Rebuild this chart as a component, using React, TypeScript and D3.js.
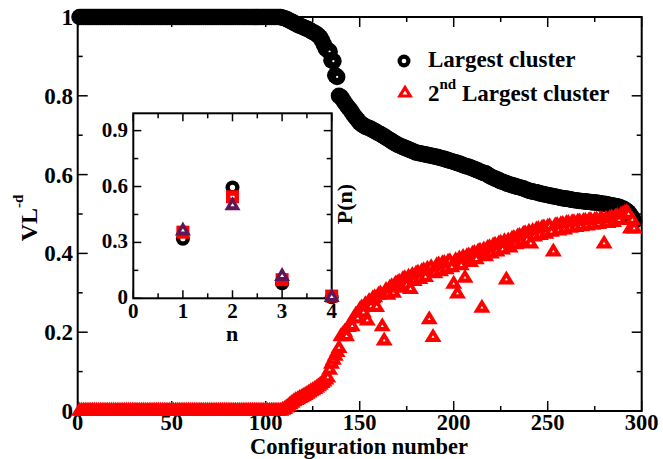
import React from "react";
import * as d3 from "d3";

// ---------- DATA ----------
// VL^-d of the largest cluster, configurations 1..296
const largestCluster: number[] = [
  1,1,1,1,1,1,1,1,1,1,
  1,1,1,1,1,1,1,1,1,1,
  1,1,1,1,1,1,1,1,1,1,
  1,1,1,1,1,1,1,1,1,1,
  1,1,1,1,1,1,1,1,1,1,
  1,1,1,1,1,1,1,1,1,1,
  1,1,1,1,1,1,1,1,1,1,
  1,1,1,1,1,1,1,1,1,1,
  1,1,1,1,1,1,1,1,1,1,
  1,1,1,1,1,1,1,1,1,1,
  1,1,1,1,1,1,1,1,0.998,0.997,
  0.995,0.993,0.99,0.988,0.985,0.983,0.98,0.978,0.976,0.974,
  0.972,0.97,0.968,0.965,0.962,0.96,0.957,0.953,0.948,0.94,
  0.93,0.92,0.916,0.912,0.89,0.888,0.852,0.848,0.80,0.797,
  0.79,0.783,0.776,0.77,0.764,0.757,0.75,0.744,0.738,0.732,
  0.728,0.725,0.722,0.72,0.718,0.716,0.713,0.711,0.708,0.705,
  0.703,0.70,0.697,0.694,0.691,0.688,0.685,0.682,0.679,0.676,
  0.674,0.672,0.67,0.668,0.666,0.664,0.662,0.66,0.658,0.656,
  0.655,0.654,0.653,0.652,0.651,0.65,0.649,0.648,0.647,0.646,
  0.645,0.644,0.642,0.641,0.64,0.638,0.637,0.635,0.634,0.632,
  0.631,0.629,0.628,0.626,0.624,0.622,0.621,0.62,0.618,0.616,
  0.614,0.612,0.61,0.608,0.606,0.604,0.603,0.6,0.597,0.594,
  0.592,0.59,0.588,0.586,0.583,0.582,0.58,0.578,0.576,0.575,
  0.573,0.572,0.57,0.569,0.568,0.566,0.565,0.563,0.561,0.559,
  0.558,0.557,0.556,0.555,0.554,0.552,0.551,0.55,0.549,0.548,
  0.547,0.546,0.545,0.544,0.543,0.542,0.541,0.54,0.539,0.539,
  0.538,0.537,0.536,0.535,0.535,0.534,0.533,0.533,0.532,0.532,
  0.531,0.531,0.53,0.53,0.529,0.529,0.528,0.527,0.526,0.526,
  0.525,0.524,0.523,0.522,0.521,0.52,0.519,0.518,0.516,0.514,
  0.511,0.508,0.504,0.498,0.49,0.482,
];

// VL^-d of the 2nd largest cluster, configurations 1..296
const secondCluster: number[] = [
  0.006,0.006,0.006,0.006,0.006,0.006,0.006,0.006,0.006,0.006,
  0.006,0.006,0.006,0.006,0.006,0.006,0.006,0.006,0.006,0.006,
  0.006,0.006,0.006,0.006,0.006,0.006,0.006,0.006,0.006,0.006,
  0.006,0.006,0.006,0.006,0.006,0.006,0.006,0.006,0.006,0.006,
  0.006,0.006,0.006,0.006,0.006,0.006,0.006,0.006,0.006,0.006,
  0.006,0.006,0.006,0.006,0.006,0.006,0.006,0.006,0.006,0.006,
  0.006,0.006,0.006,0.006,0.006,0.006,0.006,0.006,0.006,0.006,
  0.006,0.006,0.006,0.006,0.006,0.006,0.006,0.006,0.006,0.006,
  0.006,0.006,0.006,0.006,0.006,0.006,0.006,0.006,0.006,0.006,
  0.006,0.006,0.006,0.006,0.006,0.006,0.006,0.006,0.006,0.006,
  0.006,0.006,0.006,0.006,0.006,0.006,0.006,0.006,0.008,0.01,
  0.014,0.018,0.022,0.026,0.03,0.033,0.035,0.038,0.04,0.043,
  0.046,0.049,0.052,0.055,0.058,0.061,0.064,0.068,0.072,0.076,
  0.08,0.085,0.09,0.11,0.125,0.135,0.145,0.155,0.165,0.195,
  0.2,0.206,0.195,0.218,0.226,0.22,0.242,0.25,0.24,0.262,
  0.268,0.255,0.276,0.235,0.284,0.27,0.291,0.294,0.269,0.3,
  0.303,0.22,0.184,0.312,0.3,0.318,0.322,0.305,0.328,0.33,
  0.333,0.318,0.34,0.342,0.325,0.346,0.315,0.35,0.335,0.354,
  0.356,0.34,0.36,0.362,0.345,0.366,0.238,0.37,0.193,0.355,
  0.375,0.377,0.36,0.38,0.381,0.365,0.384,0.385,0.37,0.328,
  0.388,0.303,0.392,0.375,0.396,0.343,0.398,0.4,0.383,0.404,
  0.406,0.39,0.41,0.412,0.267,0.415,0.398,0.419,0.421,0.405,
  0.425,0.427,0.41,0.43,0.432,0.415,0.436,0.339,0.438,0.42,
  0.442,0.444,0.428,0.448,0.45,0.434,0.454,0.456,0.44,0.46,
  0.43,0.462,0.448,0.466,0.467,0.452,0.47,0.471,0.455,0.473,
  0.474,0.46,0.41,0.476,0.477,0.463,0.479,0.48,0.466,0.482,
  0.482,0.47,0.484,0.484,0.472,0.486,0.486,0.474,0.487,0.488,
  0.476,0.489,0.489,0.478,0.49,0.491,0.48,0.492,0.492,0.43,
  0.493,0.482,0.495,0.496,0.485,0.498,0.5,0.49,0.504,0.506,
  0.508,0.51,0.505,0.468,0.49,0.468,
];

const configNumbers: number[] = largestCluster.map((_, i) => i + 1);

// Inset: P(n)
const insetN: number[] = [1, 2, 3, 4];
const insetCircles: number[] = [0.32, 0.595, 0.08, 0.005];
const insetSquares: number[] = [0.355, 0.545, 0.1, 0.012];
const insetTriangles: number[] = [0.375, 0.51, 0.13, 0.018];

const mainXTicks: number[] = [0, 50, 100, 150, 200, 250, 300];
const mainXMinor: number[] = [25, 75, 125, 175, 225, 275];
const mainYTicks: number[] = [0, 0.2, 0.4, 0.6, 0.8, 1];
const mainYMinor: number[] = [0.1, 0.3, 0.5, 0.7, 0.9];
const mainYLabels: string[] = ["0", "0.2", "0.4", "0.6", "0.8", "1"];
const insetXTicks: number[] = [0, 1, 2, 3, 4];
const insetXMinor: number[] = [0.5, 1.5, 2.5, 3.5];
const insetYTicks: number[] = [0, 0.3, 0.6, 0.9];
const insetYMinor: number[] = [0.15, 0.45, 0.75];
const insetYLabels: string[] = ["0", "0.3", "0.6", "0.9"];

const legendLabels: string[] = ["Largest cluster", "Largest cluster"];

// ---------- STYLE ----------
const FONT = '"Liberation Serif", "Times New Roman", "DejaVu Serif", serif';
const RED = "#ff0000";
const PURPLE = "#5e1656";

const W = 663;
const H = 459;

const tri = (cx: number, cy: number, w: number, h: number) =>
  `M${cx},${cy - h / 2}L${cx + w / 2},${cy + h / 2}L${cx - w / 2},${cy + h / 2}Z`;

const txt: React.CSSProperties = { fontFamily: FONT, fontWeight: 700 };

export default function App() {
  const x = d3.scaleLinear().domain([0, 300]).range([77.7, 641.7]);
  const y = d3.scaleLinear().domain([0, 1]).range([411, 17]);
  const xi = d3.scaleLinear().domain([0, 4]).range([133.3, 331.7]);
  const yi = d3.scaleLinear().domain([0, 1]).range([298.3, 112]);

  const [x0, x1] = x.range();
  const [y0, y1] = y.range();
  const [xi0, xi1] = xi.range();
  const [yi0] = yi.range();
  const yiTop = 113.3;

  const MAJ = 10, MIN = 5, IMAJ = 8, IMIN = 5;

  return (
    <svg
      width={W}
      height={H}
      style={{ position: "absolute", left: 0, top: 0, background: "#fff", fontFamily: FONT, fontWeight: 700 }}
    >
      <rect x={0} y={0} width={W} height={H} fill="#fff" />
      {/* main frame */}
      <rect x={x0} y={y1} width={x1 - x0} height={y0 - y1} fill="none" stroke="#000" strokeWidth={2} />
      {mainXTicks.map((t) => (
        <g key={"mx" + t}>
          <line x1={x(t)} x2={x(t)} y1={y0} y2={y0 - MAJ} stroke="#000" strokeWidth={1.5} />
          <line x1={x(t)} x2={x(t)} y1={y1} y2={y1 + MAJ} stroke="#000" strokeWidth={1.5} />
          <text x={x(t)} y={430} fontSize={22.5} textAnchor="middle" style={txt}>{t}</text>
        </g>
      ))}
      {mainXMinor.map((t) => (
        <g key={"mxm" + t}>
          <line x1={x(t)} x2={x(t)} y1={y0} y2={y0 - MIN} stroke="#000" strokeWidth={1.5} />
          <line x1={x(t)} x2={x(t)} y1={y1} y2={y1 + MIN} stroke="#000" strokeWidth={1.5} />
        </g>
      ))}
      {mainYTicks.map((t, i) => (
        <g key={"my" + t}>
          <line x1={x0} x2={x0 + MAJ} y1={y(t)} y2={y(t)} stroke="#000" strokeWidth={1.5} />
          <line x1={x1} x2={x1 - MAJ} y1={y(t)} y2={y(t)} stroke="#000" strokeWidth={1.5} />
          <text x={73} y={y(t) + 8} fontSize={23} textAnchor="end" style={txt}>{mainYLabels[i]}</text>
        </g>
      ))}
      {mainYMinor.map((t) => (
        <g key={"mym" + t}>
          <line x1={x0} x2={x0 + MIN} y1={y(t)} y2={y(t)} stroke="#000" strokeWidth={1.5} />
          <line x1={x1} x2={x1 - MIN} y1={y(t)} y2={y(t)} stroke="#000" strokeWidth={1.5} />
        </g>
      ))}

      {/* axis titles */}
      <text x={359} y={454} fontSize={22.5} textAnchor="middle" style={txt}>Configuration number</text>
      <text transform="translate(36.5,218) rotate(-90)" fontSize={24} textAnchor="middle" style={txt}>
        VL<tspan fontSize={15} dy={-14}>-d</tspan>
      </text>

      {/* largest cluster */}
      <g>
        {largestCluster.map((v, i) => (
          <g key={"b" + i}>
            <circle cx={x(configNumbers[i])} cy={y(v)} r={8.3} fill="#000" />
            <circle cx={x(configNumbers[i])} cy={y(v)} r={1.1} fill="#fff" />
          </g>
        ))}
      </g>
      {/* 2nd largest cluster */}
      <g>
        {secondCluster.map((v, i) => (
          <g key={"r" + i}>
            <path d={tri(x(configNumbers[i]), y(v), 17, 14)} fill={RED} />
            <path d={tri(x(configNumbers[i]), y(v) + 1.5, 3, 2.5)} fill="#fff" />
          </g>
        ))}
      </g>

      {/* legend */}
      <circle cx={404} cy={61} r={6.5} fill="#000" />
      <circle cx={404} cy={61} r={2.3} fill="#fff" />
      <text x={428} y={67} fontSize={23} style={txt}>{legendLabels[0]}</text>
      <path d={tri(405, 91, 16, 13)} fill={RED} />
      <path d={tri(405, 92.5, 5, 4)} fill="#fff" />
      <text x={428} y={101} fontSize={23} style={txt}>
        2<tspan fontSize={15} dy={-12}>nd</tspan>
        <tspan dy={12}> {legendLabels[1]}</tspan>
      </text>

      {/* inset */}
      <rect x={xi0} y={yiTop} width={xi1 - xi0} height={yi0 - yiTop} fill="#fff" stroke="#000" strokeWidth={2} />
      {insetXTicks.map((t) => (
        <g key={"ix" + t}>
          <line x1={xi(t)} x2={xi(t)} y1={yi0} y2={yi0 - IMAJ} stroke="#000" strokeWidth={1.5} />
          <line x1={xi(t)} x2={xi(t)} y1={yiTop} y2={yiTop + IMAJ} stroke="#000" strokeWidth={1.5} />
          <text x={xi(t)} y={318} fontSize={21} textAnchor="middle" style={txt}>{t}</text>
        </g>
      ))}
      {insetXMinor.map((t) => (
        <g key={"ixm" + t}>
          <line x1={xi(t)} x2={xi(t)} y1={yi0} y2={yi0 - IMIN} stroke="#000" strokeWidth={1.5} />
          <line x1={xi(t)} x2={xi(t)} y1={yiTop} y2={yiTop + IMIN} stroke="#000" strokeWidth={1.5} />
        </g>
      ))}
      {insetYTicks.map((t, i) => (
        <g key={"iy" + t}>
          <line x1={xi0} x2={xi0 + IMAJ} y1={yi(t)} y2={yi(t)} stroke="#000" strokeWidth={1.5} />
          <line x1={xi1} x2={xi1 - IMAJ} y1={yi(t)} y2={yi(t)} stroke="#000" strokeWidth={1.5} />
          <text x={128} y={yi(t) + 6} fontSize={21} textAnchor="end" style={txt}>{insetYLabels[i]}</text>
        </g>
      ))}
      {insetYMinor.map((t) => (
        <g key={"iym" + t}>
          <line x1={xi0} x2={xi0 + IMIN} y1={yi(t)} y2={yi(t)} stroke="#000" strokeWidth={1.5} />
          <line x1={xi1} x2={xi1 - IMIN} y1={yi(t)} y2={yi(t)} stroke="#000" strokeWidth={1.5} />
        </g>
      ))}
      <text x={232} y={341} fontSize={22} textAnchor="middle" style={txt}>n</text>
      <text transform="translate(352,204) rotate(-90)" fontSize={22} textAnchor="middle" style={txt}>P(n)</text>

      {insetN.map((n, i) => (
        <g key={"ic" + n}>
          <circle cx={xi(n)} cy={yi(insetCircles[i])} r={7} fill="#000" />
          <circle cx={xi(n)} cy={yi(insetCircles[i])} r={2.6} fill="#fff" />
        </g>
      ))}
      {insetN.map((n, i) => (
        <g key={"is" + n}>
          <rect x={xi(n) - 6.5} y={yi(insetSquares[i]) - 6.5} width={13} height={13} fill={RED} />
          <rect x={xi(n) - 2} y={yi(insetSquares[i]) - 1} width={4} height={2} fill="#fff" />
        </g>
      ))}
      {insetN.map((n, i) => (
        <g key={"it" + n}>
          <path d={tri(xi(n), yi(insetTriangles[i]), 16, 14)} fill={PURPLE} />
          <path d={tri(xi(n), yi(insetTriangles[i]) + 1.5, 4, 3)} fill="#fff" />
        </g>
      ))}
    </svg>
  );
}
